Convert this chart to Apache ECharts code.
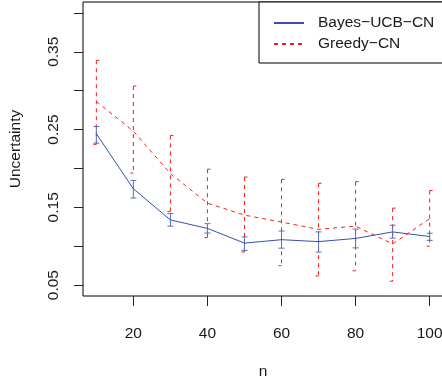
<!DOCTYPE html>
<html>
<head>
<meta charset="utf-8">
<script src="https://cdn.jsdelivr.net/npm/echarts@6/dist/echarts.min.js"></script>
<style>
  html, body { margin: 0; padding: 0; background: #fff; overflow: hidden; }
  /* a little wider than the window so the plot box's right edge falls just outside it */
  #chart { width: 446px; height: 385px; }
</style>
</head>
<body>
<div id="chart"></div>
<script>
// sample size on the x axis
const nValues = [10, 20, 30, 40, 50, 60, 70, 80, 90, 100];

// Bayes-UCB-CN: mean and error bar ends
const bayesMean = [0.2446, 0.1738, 0.1338, 0.1229, 0.1040, 0.1084, 0.1059, 0.1100, 0.1184, 0.1125];
const bayesLow  = [0.2325, 0.1620, 0.1258, 0.1170, 0.0946, 0.0975, 0.0925, 0.0979, 0.1104, 0.1075];
const bayesHigh = [0.2540, 0.1846, 0.1420, 0.1290, 0.1120, 0.1196, 0.1184, 0.1220, 0.1270, 0.1167];

// Greedy-CN: mean and error bar ends
const greedyMean = [0.2860, 0.2480, 0.1934, 0.1554, 0.1400, 0.1310, 0.1217, 0.1258, 0.1029, 0.1354];
const greedyLow  = [0.2310, 0.1940, 0.1446, 0.1110, 0.0925, 0.0750, 0.0617, 0.0684, 0.0550, 0.1000];
const greedyHigh = [0.3390, 0.3060, 0.2425, 0.1990, 0.1890, 0.1860, 0.1810, 0.1830, 0.1490, 0.1716];

// axis ticks
const xTicks = [20, 40, 60, 80, 100];
const yTicks = [0.05, 0.10, 0.15, 0.20, 0.25, 0.30, 0.35, 0.40];
const yTickLabels = [0.05, 0.15, 0.25, 0.35];

const FONT = "'Liberation Sans', Arial, sans-serif";
const FS = 15.5;
const TXT = "#1a1a1a";
const BLUE = "#3550ae";
const BLUE_BAR = "#5870c0";
const RED = "#ff1a1a";

const chart = echarts.init(document.getElementById("chart"), null, { renderer: "canvas" });

// error bars drawn through the axes' own scales
function errorBars(low, high, color, dashed) {
  return {
    type: "custom",
    silent: true,
    z: 1,
    data: nValues.map((n, i) => [n, low[i], high[i]]),
    renderItem: (params, api) => {
      const top = api.coord([api.value(0), api.value(2)]);
      const bot = api.coord([api.value(0), api.value(1)]);
      const w = 3;
      const style = {
        stroke: color,
        lineWidth: 1,
        lineDash: dashed ? [4, 4] : null,
        fill: null
      };
      const children = [
        { type: "line", shape: { x1: top[0], y1: top[1], x2: bot[0], y2: bot[1] }, style: style }
      ];
      if (dashed) {
        // dashed arrows only show half of each cap
        children.push({ type: "line", shape: { x1: top[0], y1: top[1], x2: top[0] + w, y2: top[1] }, style: { stroke: color, lineWidth: 1 } });
        children.push({ type: "line", shape: { x1: bot[0] - w, y1: bot[1], x2: bot[0], y2: bot[1] }, style: { stroke: color, lineWidth: 1 } });
      } else {
        children.push({ type: "line", shape: { x1: top[0] - w, y1: top[1], x2: top[0] + w, y2: top[1] }, style: style });
        children.push({ type: "line", shape: { x1: bot[0] - w, y1: bot[1], x2: bot[0] + w, y2: bot[1] }, style: style });
      }
      return { type: "group", children: children };
    }
  };
}

const option = {
  animation: false,
  textStyle: { fontFamily: FONT },
  grid: {
    left: 82, top: 2, right: 3, bottom: 80,
    show: true, borderColor: "#000", borderWidth: 1, backgroundColor: "transparent"
  },
  legend: {
    orient: "vertical",
    left: 259,
    top: 2,
    padding: [13, 40, 11, 14],
    itemGap: 5,
    itemWidth: 30,
    itemHeight: 14,
    borderColor: "#000",
    borderWidth: 1,
    backgroundColor: "#fff",
    itemStyle: { opacity: 0 },
    textStyle: { fontFamily: FONT, fontSize: FS, color: TXT, padding: [0, 0, 0, 9] },
    data: ["Bayes\u2212UCB\u2212CN", "Greedy\u2212CN"]
  },
  xAxis: {
    type: "value",
    min: 6.4,
    max: 103.6,
    name: "n",
    nameLocation: "middle",
    nameGap: 68,
    nameTextStyle: { fontFamily: FONT, fontSize: FS, color: TXT },
    axisLine: { show: false },
    splitLine: { show: false },
    axisTick: { show: true, length: 10, customValues: xTicks, lineStyle: { color: "#222" } },
    axisLabel: { customValues: xTicks, margin: 30, fontFamily: FONT, fontSize: FS, color: TXT }
  },
  yAxis: {
    type: "value",
    min: 0.036,
    max: 0.414,
    name: "Uncertainty",
    nameLocation: "middle",
    nameGap: 59,
    nameTextStyle: { fontFamily: FONT, fontSize: FS, color: TXT },
    axisLine: { show: false },
    splitLine: { show: false },
    axisTick: { show: true, length: 9, customValues: yTicks, lineStyle: { color: "#222" } },
    axisLabel: {
      customValues: yTickLabels,
      rotate: 90,
      margin: 21,
      fontFamily: FONT,
      fontSize: FS,
      color: TXT,
      formatter: (v) => v.toFixed(2)
    }
  },
  series: [
    errorBars(greedyLow, greedyHigh, RED, true),
    errorBars(bayesLow, bayesHigh, BLUE_BAR, false),
    {
      name: "Bayes\u2212UCB\u2212CN",
      type: "line",
      data: nValues.map((n, i) => [n, bayesMean[i]]),
      symbol: "none",
      lineStyle: { color: BLUE, width: 1 },
      itemStyle: { color: BLUE },
      z: 3
    },
    {
      name: "Greedy\u2212CN",
      type: "line",
      data: nValues.map((n, i) => [n, greedyMean[i]]),
      symbol: "none",
      lineStyle: { color: RED, width: 1, type: [4, 4] },
      itemStyle: { color: RED },
      z: 3
    }
  ]
};

chart.setOption(option);
</script>
</body>
</html>
